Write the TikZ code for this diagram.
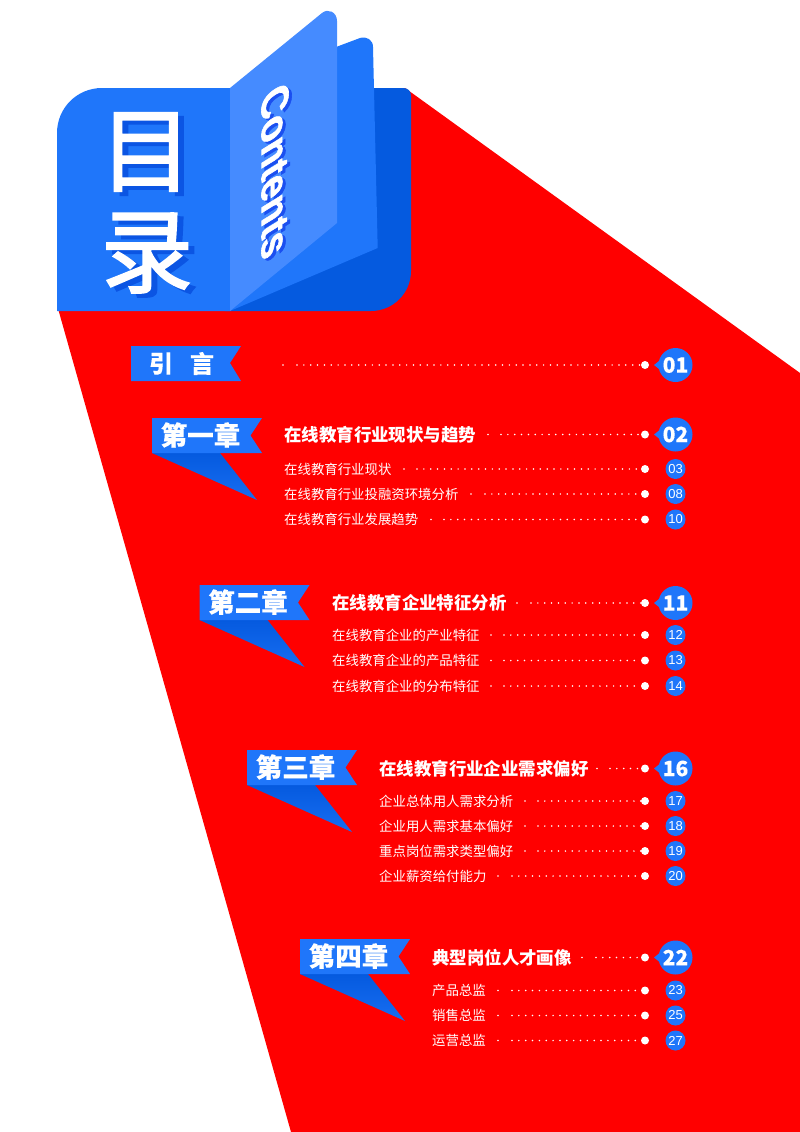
\documentclass[tikz,border=0pt]{standalone}
\usepackage{fontspec}
\setmainfont{Liberation Sans}
\newfontfamily\cjk[BoldFeatures={FakeBold=0.2}]{Noto Sans CJK SC}
\newfontfamily\cjkplain{Noto Sans CJK SC}
\newfontfamily\cjkfat[FakeBold=2]{Noto Sans CJK SC}
\newfontfamily\contfont[BoldFeatures={FakeBold=1.6}]{Liberation Sans}
\definecolor{bookblue}{HTML}{1F76FA}
\definecolor{bookdark}{HTML}{055ADF}
\definecolor{booklight}{HTML}{458BFF}
\definecolor{shadowblue}{HTML}{0B55E3}
\definecolor{contshadow}{HTML}{1B4FF0}
\definecolor{pagered}{HTML}{FF0000}
\begin{document}
\begin{tikzpicture}[x=1pt,y=-1pt,
    banner/.style={fill=bookblue},
    tail/.style={top color=bookdark,bottom color=bookblue!70!bookdark},
    chaptext/.style={text=white,inner sep=0pt,font=\fontsize{26.5}{27}\cjk\bfseries},
    toptext/.style={text=white,anchor=west,inner sep=0pt,font=\fontsize{17.45}{18}\cjkplain\bfseries},
    subtext/.style={text=white,anchor=west,inner sep=0pt,font=\fontsize{13.4}{14}\cjkplain},
    bignum/.style={circle,fill=bookblue,text=white,minimum size=34pt,inner sep=0pt,font=\fontsize{21}{21}\cjk\bfseries},
    subnum/.style={circle,fill=bookblue,text=white,minimum size=20pt,inner sep=0pt,font=\fontsize{13}{13}\selectfont},
    enddot/.style={circle,fill=white,minimum size=8pt,inner sep=0pt},
    startdot/.style={circle,fill=white,minimum size=1.8pt,inner sep=0pt},
    dotline/.style={white,line width=1.7pt,line cap=round,dash pattern=on 0pt off 6.85pt}]
  \useasboundingbox (0,0) rectangle (800,1132);

  % background
  \fill[pagered] (57,305) -- (405,88) -- (800,373) -- (800,1132) -- (291,1132) -- cycle;

  % book
  \fill[bookdark] (225,88) -- (403,88) .. controls (408,88) and (411,91) .. (411,96) -- (411,271)
    .. controls (411,293) and (393,311) .. (371,311) -- (225,311) -- cycle;
  \fill[bookblue] (230,88) -- (230,311) -- (57,311) -- (57,133)
    .. controls (57,108) and (77,88) .. (102,88) -- cycle;
  \fill[bookblue] (230,311) -- (336,47) -- (360,38) .. controls (367,36) and (373,40) .. (373,47)
    -- (377.7,248) -- cycle;
  \fill[booklight] (230,88) -- (322,13) .. controls (328,8) and (337,12) .. (337,21) -- (337,223)
    -- (230,311) -- cycle;

  \node[text=shadowblue,inner sep=0pt,font=\fontsize{92}{92}\cjkfat] (muback) at (152,156) {目};
  \node[text=white,inner sep=0pt,font=\fontsize{92}{92}\cjkfat] (mu) at (146,152) {目};
  \node[text=shadowblue,inner sep=0pt,font=\fontsize{92}{92}\cjkfat] (luback) at (153,257) {录};
  \node[text=white,inner sep=0pt,font=\fontsize{92}{92}\cjkfat] (lu) at (147,253) {录};

  \begin{scope}[shift={(278,173)},cm={0,-1,1,0.62,(0,0)}]
    \node[transform shape,text=contshadow,inner sep=0pt,font=\fontsize{38.5}{39}\contfont\bfseries] (contback) at (0,0) {Contents};
  \end{scope}
  \begin{scope}[shift={(275,171)},cm={0,-1,1,0.62,(0,0)}]
    \node[transform shape,text=white,inner sep=0pt,font=\fontsize{38.5}{39}\contfont\bfseries] (cont) at (0,0) {Contents};
  \end{scope}

  % intro
  \fill[banner] (131,346) -- (241,346) -- (230,363) -- (241,381) -- (131,381) -- cycle;
  \node[chaptext,font=\fontsize{24}{24}\cjk\bfseries] (yin) at (161,363.5) {引};
  \node[chaptext,font=\fontsize{24}{24}\cjk\bfseries] (yan) at (202,363.5) {言};

  % chapters
  \foreach \x/\y/\name/\chap in {152/418/one/第一章,199.5/585/two/第二章,247/750/three/第三章,300/939/four/第四章} {
    \begin{scope}[shift={(\x,\y)}]
      \shade[tail] (0,35) -- (105,82) -- (68,35) -- cycle;
      \fill[banner] (0,0) -- (110,0) -- (98.5,17.5) -- (110,35) -- (0,35) -- cycle;
      \node[chaptext] (\name) at (48.5,17) {\chap};
    \end{scope}
  }

  % big rows
  \foreach \y/\tx/\lone/\run/\num/\txt in {
      365/0/283/297/01/,
      434.5/284/488/501/02/在线教育行业现状与趋势,
      603/332/517/531/11/在线教育企业特征分析,
      768.5/379/597/610/16/在线教育行业企业需求偏好,
      957.5/432/582/596/22/典型岗位人才画像} {
    \node[toptext] (title\num) at (\tx,\y) {\txt};
    \fill[bookblue] (654,\y) -- (664,\y-8) -- (664,\y+8) -- cycle;
    \node[bignum] (num\num) at (675.5,\y) {\num};
    \node[enddot] (end\num) at (645,\y) {};
    \node[startdot] (lone\num) at (\lone,\y) {};
    \coordinate (run\num) at (\run,\y);
    \draw[dotline] (run\num) -- (end\num);
  }

  % small rows
  \foreach \y/\tx/\lone/\run/\num/\txt in {
      469/284/404/417/03/在线教育行业现状,
      494/284/471/485/08/在线教育行业投融资环境分析,
      519.5/284/431/444/10/在线教育行业发展趋势,
      635/332/491/504/12/在线教育企业的产业特征,
      660.5/332/491/504/13/在线教育企业的产品特征,
      686/332/491/504/14/在线教育企业的分布特征,
      801/379/525/538/17/企业总体用人需求分析,
      826/379/525/538/18/企业用人需求基本偏好,
      851/379/525/538/19/重点岗位需求类型偏好,
      876/379/498/512/20/企业薪资给付能力,
      990.5/432/498/512/23/产品总监,
      1015.5/432/498/512/25/销售总监,
      1040.5/432/498/512/27/运营总监} {
    \node[subtext] (title\num) at (\tx,\y) {\txt};
    \node[subnum] (num\num) at (675.5,\y) {\num};
    \node[enddot] (end\num) at (645,\y) {};
    \node[startdot] (lone\num) at (\lone,\y) {};
    \coordinate (run\num) at (\run,\y);
    \draw[dotline] (run\num) -- (end\num);
  }
\end{tikzpicture}
\end{document}
